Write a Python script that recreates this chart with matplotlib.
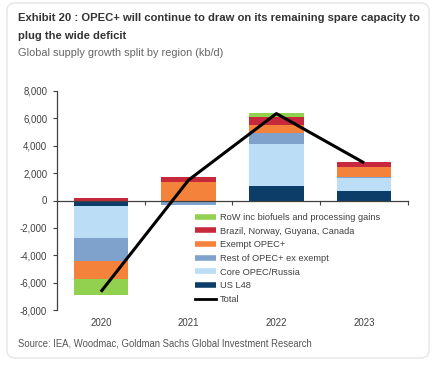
import numpy as np
import matplotlib
matplotlib.use('Agg')
import matplotlib.pyplot as plt
import matplotlib.font_manager as fm
from matplotlib.patches import FancyBboxPatch
from matplotlib.lines import Line2D
import matplotlib.transforms as mtransforms

# data (kb/d)
years = ['2020', '2021', '2022', '2023']
series_names = ['RoW inc biofuels and processing gains',
                'Brazil, Norway, Guyana, Canada',
                'Exempt OPEC+',
                'Rest of OPEC+ ex exempt',
                'Core OPEC/Russia',
                'US L48']
row_biofuels = [-1170, 0, 290, 0]
brazil_norway = [195, 410, 585, 390]
exempt_opec = [-1265, 1340, 560, 730]
rest_opec = [-1705, -220, 805, 90]
core_opec = [-2315, -80, 3090, 880]
us_l48 = [-415, 0, 1050, 730]
total = [-6670, 1500, 6350, 2750]

colors = ['#92D050', '#C8283C', '#F5823A', '#7EA2CB', '#BBDDF5', '#0C3C68']

names = [f.name for f in fm.fontManager.ttflist]
title_font = 'Liberation Sans Narrow' if 'Liberation Sans Narrow' in names else 'Liberation Sans'
axis_font = 'Liberation Sans'

W, H = 439, 367
fig = plt.figure(figsize=(W / 100, H / 100), dpi=100)
fig.patch.set_facecolor('white')

# card outline
card = FancyBboxPatch((7 / W, 1 - 358 / H), 422 / W, 355 / H,
                      boxstyle='round,pad=0,rounding_size=0.02',
                      transform=fig.transFigure, facecolor='white',
                      edgecolor='#e6e6e6', linewidth=1.0, zorder=-10)
fig.patches.append(card)

ax = fig.add_axes([57 / W, 1 - 310 / H, 351 / W, 219 / H])
ax.patch.set_alpha(0)
x = np.arange(len(years))
width = 0.62

stack = [us_l48, core_opec, rest_opec, exempt_opec, brazil_norway, row_biofuels]
stack_colors = colors[::-1]
pos_base = np.zeros(len(years))
neg_base = np.zeros(len(years))
for vals, c in zip(stack, stack_colors):
    vals = np.array(vals, dtype=float)
    base = np.where(vals >= 0, pos_base, neg_base)
    ax.bar(x, vals, width, bottom=base, color=c, linewidth=0, zorder=2)
    pos_base = pos_base + np.where(vals >= 0, vals, 0)
    neg_base = neg_base + np.where(vals < 0, vals, 0)

ax.plot(x, total, color='black', lw=2.2, zorder=3, solid_capstyle='butt')

ax.set_xlim(-0.5, 3.5)
ax.set_ylim(-8000, 8000)
ax.set_yticks(np.arange(-8000, 8001, 2000))
ax.set_yticklabels(['{:,}'.format(v) for v in range(-8000, 8001, 2000)],
                   fontfamily=axis_font, fontsize=6.9, color='#404040')
ax.tick_params(axis='y', direction='out', length=3, width=0.8, color='#404040', pad=4)

for s in ['top', 'right']:
    ax.spines[s].set_visible(False)
ax.spines['left'].set_color('#404040')
ax.spines['left'].set_linewidth(0.9)
ax.spines['bottom'].set_position(('data', 0))
ax.spines['bottom'].set_color('#404040')
ax.spines['bottom'].set_linewidth(0.9)
ax.set_xticks([0.5, 1.5, 2.5, 3.5])
ax.set_xticklabels([])
ax.tick_params(axis='x', direction='out', length=3, width=0.8, color='#404040')

trans = mtransforms.blended_transform_factory(ax.transData, fig.transFigure)
for xi, yr in zip(x, years):
    ax.text(xi, 1 - 323 / H, yr, transform=trans, ha='center', va='center',
            fontfamily=axis_font, fontsize=6.9, color='#404040')

handles = [Line2D([], [], color=c, lw=4, solid_capstyle='butt') for c in colors]
handles.append(Line2D([], [], color='black', lw=2))
leg = ax.legend(handles, series_names + ['Total'], loc='upper left',
                bbox_to_anchor=(195 / W, 1 - 213 / H), bbox_transform=fig.transFigure,
                frameon=False, borderpad=0, borderaxespad=0, handlelength=2.3,
                handletextpad=0.35, labelspacing=0.5,
                prop={'family': axis_font, 'size': 6.7})
for t in leg.get_texts():
    t.set_color('#404040')

# titles
t1 = fig.text(18 / W, 1 - 18 / H, 'Exhibit 20 : OPEC+ will continue to draw on its remaining spare capacity to',
              fontfamily=title_font, fontweight='bold', fontsize=10, color='#333333',
              va='center', ha='left')
t2 = fig.text(18 / W, 1 - 36 / H, 'plug the wide deficit',
              fontfamily=title_font, fontweight='bold', fontsize=10, color='#333333',
              va='center', ha='left')
t3 = fig.text(18 / W, 1 - 53 / H, 'Global supply growth split by region (kb/d)',
              fontfamily=title_font, fontsize=8, color='#666666', va='center', ha='left')
t4 = fig.text(18 / W, 1 - 343 / H, 'Source: IEA, Woodmac, Goldman Sachs Global Investment Research',
              fontfamily=title_font, fontsize=7.5, color='#555555', va='center', ha='left')

# fit text widths to the reference
r = fig.canvas.get_renderer()
for t, target in [(t1, 402), (t3, 206), (t4, 294)]:
    w = t.get_window_extent(r).width
    t.set_fontsize(t.get_fontsize() * target / w)
t2.set_fontsize(t1.get_fontsize())

fig.savefig('out.png', dpi=100)
